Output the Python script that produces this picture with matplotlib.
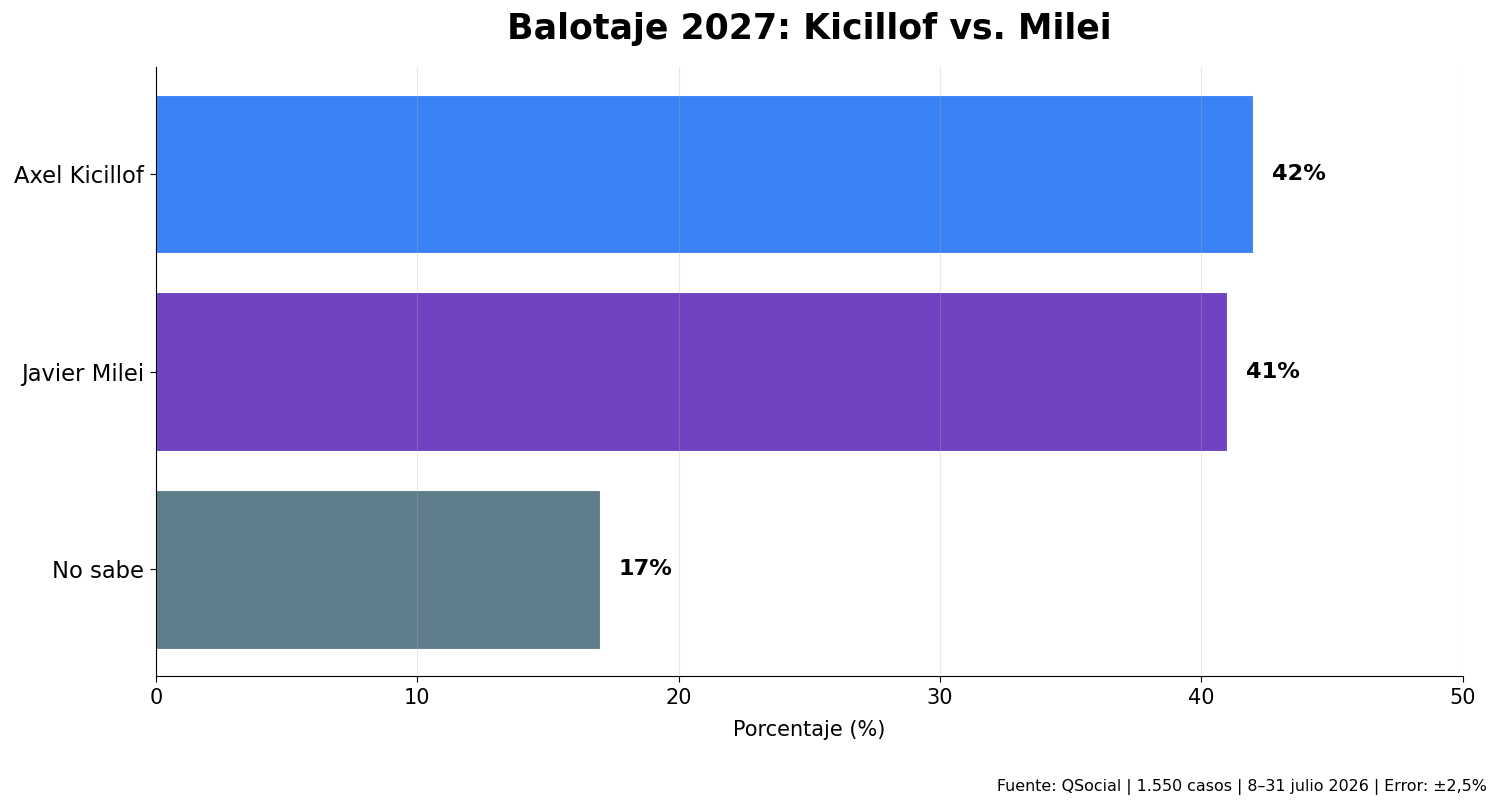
import matplotlib
matplotlib.use('Agg')
import matplotlib.pyplot as plt

# Datos del balotaje
candidatos = ['Axel Kicillof', 'Javier Milei', 'No sabe']
porcentajes = [42, 41, 17]
colores = ['#3b82f6', '#6f42c1', '#607d8b']

fig, ax = plt.subplots(figsize=(15, 8.07), dpi=100)

y = list(range(len(candidatos)))
bars = ax.barh(y, porcentajes, color=colores, height=0.8, edgecolor='white', linewidth=0.8)
ax.set_yticks(y)
ax.set_yticklabels(candidatos, fontsize=16.3)
ax.invert_yaxis()

# Etiquetas de valor
for bar, val in zip(bars, porcentajes):
    ax.text(bar.get_width() + 0.7, bar.get_y() + bar.get_height() / 2, f'{val}%',
            va='center', ha='left', fontsize=16.2, fontweight='bold')

ax.set_xlim(0, 50)
ax.tick_params(axis='x', labelsize=15)
ax.tick_params(axis='both', length=4.5, pad=4.3)
ax.set_xlabel('Porcentaje (%)', fontsize=15, labelpad=8)
ax.set_title('Balotaje 2027: Kicillof vs. Milei', fontsize=25, fontweight='bold', pad=20)

ax.grid(axis='x', alpha=0.3)
ax.spines['top'].set_visible(False)
ax.spines['right'].set_visible(False)

fig.text(0.991, 0.015, 'Fuente: QSocial | 1.550 casos | 8–31 julio 2026 | Error: ±2,5%',
         ha='right', va='bottom', fontsize=11.4)

plt.subplots_adjust(left=0.104, right=0.975, top=0.917, bottom=0.162)
plt.savefig('out.png', dpi=100)
